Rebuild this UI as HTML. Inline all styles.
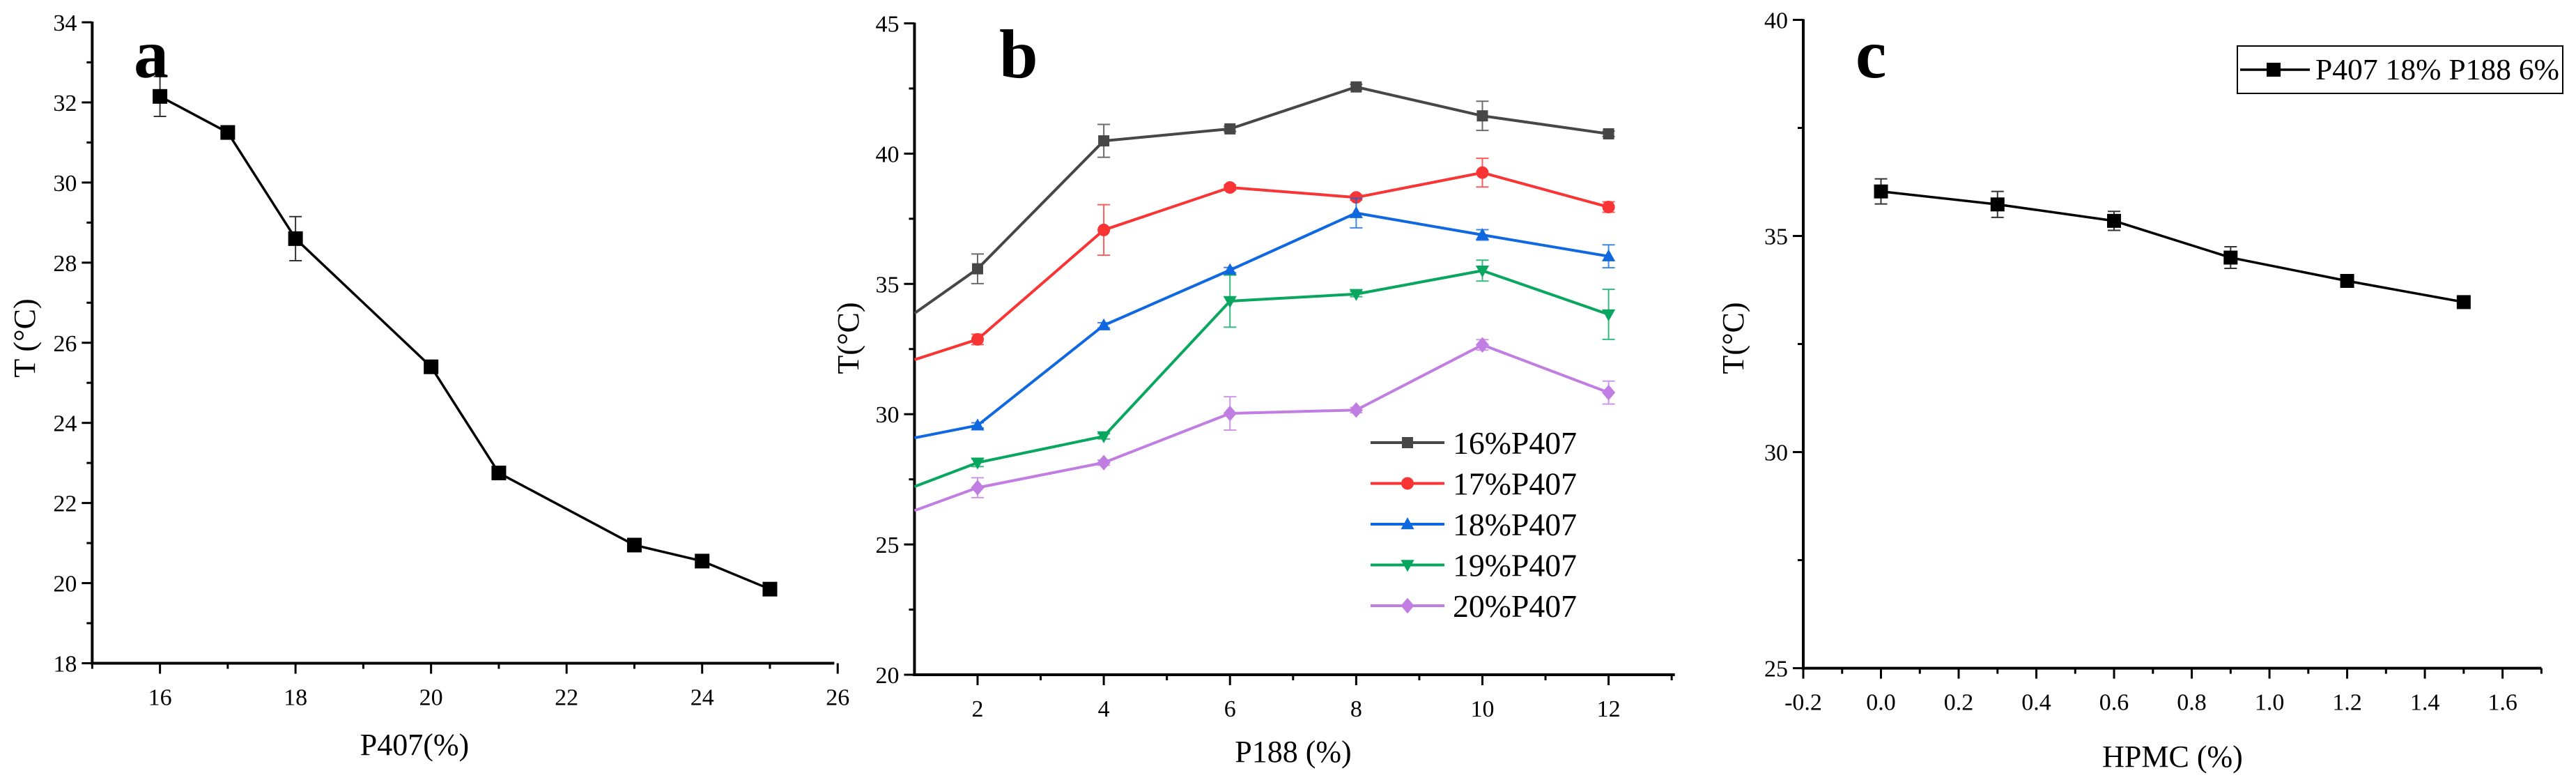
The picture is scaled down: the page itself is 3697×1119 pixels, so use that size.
<!DOCTYPE html>
<html><head><meta charset="utf-8"><style>
html,body{margin:0;padding:0;background:#fff;}
svg{display:block;}
text{font-family:"Liberation Serif","Times New Roman",serif;}
</style></head><body>
<svg id="fig" width="3697" height="1119" viewBox="0 0 3697 1119" xmlns="http://www.w3.org/2000/svg" font-family="Liberation Serif, serif">
<rect width="3697" height="1119" fill="#fff"/>
</svg>
<script>
// ---------- Panel a data ----------
const aX = [16, 17, 18, 20, 21, 23, 24, 25];
const aY = [32.15, 31.25, 28.6, 25.4, 22.75, 20.95, 20.55, 19.85];
const aErr = [0.5, 0.05, 0.55, 0.1, 0.1, 0.1, 0.1, 0.1];
const aXTicks = [16, 18, 20, 22, 24, 26];
const aYTicks = [18, 20, 22, 24, 26, 28, 30, 32, 34];
// ---------- Panel b data ----------
const bX = [1, 2, 4, 6, 8, 10, 12];
const bNames = ["16%P407", "17%P407", "18%P407", "19%P407", "20%P407"];
const b16 = [33.87, 35.58, 40.49, 40.95, 42.56, 41.45, 40.76];
const b17 = [32.09, 32.87, 37.07, 38.70, 38.32, 39.27, 37.95];
const b18 = [29.09, 29.57, 33.41, 35.53, 37.72, 36.88, 36.06];
const b19 = [27.22, 28.14, 29.15, 34.34, 34.61, 35.51, 33.83];
const b20 = [26.30, 27.18, 28.14, 30.03, 30.16, 32.66, 30.83];
const b16e = [0, 0.57, 0.63, 0.1, 0.1, 0.56, 0.1];
const b17e = [0, 0.2, 0.97, 0.1, 0.1, 0.55, 0.2];
const b18e = [0, 0.1, 0.1, 0.1, 0.57, 0.2, 0.44];
const b19e = [0, 0.15, 0.1, 1.0, 0.1, 0.4, 0.96];
const b20e = [0, 0.38, 0.1, 0.64, 0.1, 0.2, 0.44];
const bXTicks = [2, 4, 6, 8, 10, 12];
const bYTicks = [20, 25, 30, 35, 40, 45];
// ---------- Panel c data ----------
const cX = [0, 0.3, 0.6, 0.9, 1.2, 1.5];
const cY = [36.03, 35.73, 35.35, 34.5, 33.96, 33.47];
const cErr = [0.29, 0.3, 0.22, 0.25, 0.08, 0.08];
const cXTicks = [-0.2, 0, 0.2, 0.4, 0.6, 0.8, 1.0, 1.2, 1.4, 1.6];
const cYTicks = [25, 30, 35, 40];

const NS = "http://www.w3.org/2000/svg";
const svg = document.getElementById("fig");
function mk(tag, attrs, parent) {
  const e = document.createElementNS(NS, tag);
  for (const k in attrs) e.setAttribute(k, attrs[k]);
  (parent || svg).appendChild(e);
  return e;
}
function txt(s, attrs, parent) { const t = mk("text", attrs, parent); t.textContent = s; return t; }
function scale(d0, d1, r0, r1) { return v => r0 + (v - d0) * (r1 - r0) / (d1 - d0); }

function marker(g, shape, x, y, s, color) {
  let m;
  if (shape === "square") m = mk("rect", {x: x - s/2, y: y - s/2, width: s, height: s, fill: color}, g);
  else if (shape === "circle") m = mk("circle", {cx: x, cy: y, r: s/2 + 1, fill: color}, g);
  else if (shape === "up") m = mk("polygon", {points: `${x},${y - s*0.62} ${x - s*0.6},${y + s*0.45} ${x + s*0.6},${y + s*0.45}`, fill: color}, g);
  else if (shape === "down") m = mk("polygon", {points: `${x},${y + s*0.62} ${x - s*0.6},${y - s*0.45} ${x + s*0.6},${y - s*0.45}`, fill: color}, g);
  else m = mk("polygon", {points: `${x},${y - s*0.7} ${x + s*0.6},${y} ${x},${y + s*0.7} ${x - s*0.6},${y}`, fill: color}, g);
  
  
  return m;
}

function axes(p) {
  const g = mk("g", {});
  
  
  const sx = p.sx, sy = p.sy;
  const yb = sy(p.ymin), yt = sy(p.ymax), xl = sx(p.xmin), xr = sx(p.xmax);
  mk("line", {x1: xl, y1: yt - 1, x2: xl, y2: yb + 2, stroke: "#000", "stroke-width": 4}, g);
  mk("line", {x1: xl - 2, y1: yb, x2: xr, y2: yb, stroke: "#000", "stroke-width": 4}, g);
  p.yMinor.forEach(v => mk("line", {x1: xl, x2: xl - 8, y1: sy(v), y2: sy(v), stroke: "#000", "stroke-width": 3}, g));
  p.xMinor.forEach(v => mk("line", {x1: sx(v), x2: sx(v), y1: yb, y2: yb + 8, stroke: "#000", "stroke-width": 3}, g));
  p.yTicks.forEach(v => {
    mk("line", {x1: xl, x2: xl - 15, y1: sy(v), y2: sy(v), stroke: "#000", "stroke-width": 3}, g);
    const t = txt(String(v), {x: xl - 22, y: sy(v) + 12, "font-size": 34, "text-anchor": "end"}, g);
    
    
  });
  p.xTicks.forEach(v => {
    mk("line", {x1: sx(v), x2: sx(v), y1: yb, y2: yb + 15, stroke: "#000", "stroke-width": 3}, g);
    const t = txt(p.fmt(v), {x: sx(v), y: yb + 60, "font-size": 34, "text-anchor": "middle"}, g);
    
    
  });
  const xt = txt(p.xTitle, {x: p.xTitleX, y: p.xTitleY, "font-size": 44, "text-anchor": "middle"}, g);
  
  
  const yt2 = txt(p.yTitle, {x: 0, y: 0, "font-size": 44, "text-anchor": "middle", transform: `translate(${p.yTitleX},${485}) rotate(-90)`}, g);
  
  
  const pl = txt(p.letter, {x: p.letterX, y: p.letterY, "font-size": 100, "font-weight": "bold"}, g);
  
  
}

function series(xs, ys, es, sx, sy, color, shape, ms, lw, skipFirstMarker, name) {
  const g = mk("g", {});
  
  
  xs.forEach((x, i) => {
    if (es[i] > 0 && !(skipFirstMarker && i === 0)) {
      const X = sx(x), y1 = sy(ys[i] + es[i]), y2 = sy(ys[i] - es[i]);
      mk("path", {d: `M${X},${y1}V${y2}M${X-9},${y1}H${X+9}M${X-9},${y2}H${X+9}`, stroke: color, "stroke-width": 2, fill: "none", opacity: 0.8}, g);
    }
  });
  const line = mk("polyline", {points: xs.map((x, i) => sx(x) + "," + sy(ys[i])).join(" "), fill: "none", stroke: color, "stroke-width": lw, "stroke-linejoin": "round"}, g);
  
  
  xs.forEach((x, i) => { if (!(skipFirstMarker && i === 0)) marker(g, shape, sx(x), sy(ys[i]), ms, color); });
}

// Panel a
{
  const sx = scale(16, 24, 229.6, 1007.7), sy = scale(34, 18, 32, 951.5);
  axes({name: "panel-a", sx, sy, xmin: 15, xmax: 25.95, ymin: 18, ymax: 34,
    xTicks: aXTicks, yTicks: aYTicks, xMinor: [15,17,19,21,23,25], yMinor: [19,21,23,25,27,29,31,33],
    fmt: v => String(v), xTitle: "P407(%)", xTitleX: 595, xTitleY: 1083, yTitle: "T (°C)", yTitleX: 50,
    letter: "a", letterX: 192, letterY: 111});
  series(aX, aY, aErr, sx, sy, "#000", "square", 21, 3.5, false, "series-a");
}
// Panel b
{
  const sx = scale(2, 12, 1403, 2308.6), sy = scale(45, 20, 33.5, 968);
  axes({name: "panel-b", sx, sy, xmin: 1, xmax: 13.05, ymin: 20, ymax: 45,
    xTicks: bXTicks, yTicks: bYTicks, xMinor: [3,5,7,9,11,13], yMinor: [22.5,27.5,32.5,37.5,42.5],
    fmt: v => String(v), xTitle: "P188 (%)", xTitleX: 1856, xTitleY: 1093, yTitle: "T(°C)", yTitleX: 1232,
    letter: "b", letterX: 1434, letterY: 111});
  const cols = ["#474747", "#f83434", "#0f68e0", "#08a65f", "#c07de2"];
  const shapes = ["square", "circle", "up", "down", "diamond"];
  const vals = [b16, b17, b18, b19, b20], errs = [b16e, b17e, b18e, b19e, b20e];
  vals.forEach((v, k) => series(bX, v, errs[k], sx, sy, cols[k], shapes[k], 16, 4, true, "series-" + bNames[k]));
  const lg = mk("g", {});
  
  
  bNames.forEach((n, k) => {
    const y = 635 + k * 58.5;
    const e = mk("g", {}, lg);
    
    
    mk("line", {x1: 1967, x2: 2073, y1: y, y2: y, stroke: cols[k], "stroke-width": 4}, e);
    marker(e, shapes[k], 2020, y, 16, cols[k]);
    txt(n, {x: 2085, y: y + 16, "font-size": 46, textLength: 178, lengthAdjust: "spacingAndGlyphs"}, e);
  });
}
// Panel c
{
  const sx = scale(-0.2, 1.6, 2588, 3591.6), sy = scale(40, 25, 28.5, 958.6);
  axes({name: "panel-c", sx, sy, xmin: -0.2, xmax: 1.7, ymin: 25, ymax: 40,
    xTicks: cXTicks, yTicks: cYTicks, xMinor: [-0.1,0.1,0.3,0.5,0.7,0.9,1.1,1.3,1.5,1.7], yMinor: [27.5,32.5,37.5],
    fmt: v => v.toFixed(1), xTitle: "HPMC (%)", xTitleX: 3118, xTitleY: 1100, yTitle: "T(°C)", yTitleX: 2502,
    letter: "c", letterX: 2663, letterY: 111});
  series(cX, cY, cErr, sx, sy, "#000", "square", 20, 3.5, false, "series-c");
  const lg = mk("g", {});
  
  
  mk("rect", {x: 3211, y: 66, width: 467, height: 68, fill: "#fff", stroke: "#000", "stroke-width": 2}, lg);
  mk("line", {x1: 3215, x2: 3315, y1: 100, y2: 100, stroke: "#000", "stroke-width": 3.5}, lg);
  marker(lg, "square", 3263, 100, 20, "#000");
  txt("P407 18% P188 6%", {x: 3323, y: 114, "font-size": 42, textLength: 350, lengthAdjust: "spacingAndGlyphs"}, lg);
}
</script>
</body></html>
